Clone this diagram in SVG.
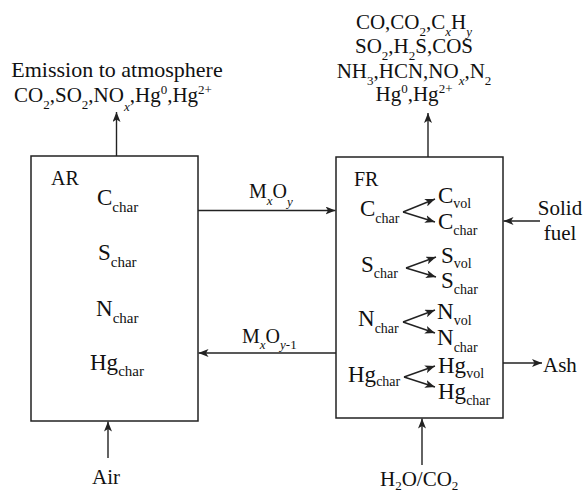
<svg xmlns="http://www.w3.org/2000/svg" width="583" height="490" viewBox="0 0 583 490">
<defs>
<style>
text{font-family:"Liberation Serif","Times New Roman",serif;fill:#111;font-size:21px}
.box{fill:#fff;stroke:#222;stroke-width:1.5}
.ln{stroke:#222;stroke-width:1.4;fill:none;marker-end:url(#ah)}
.s{font-size:13px}
.sf{font-size:14px}
.sa{font-size:15px}
.i{font-style:italic}
.big{font-size:22px}
.lab{font-size:20px}
.el{font-size:23px}
</style>
<marker id="ah" viewBox="0 0 10 8" refX="10" refY="4" markerWidth="10" markerHeight="8" markerUnits="userSpaceOnUse" orient="auto">
<path d="M0,0 L10,4 L0,8 L2.5,4 z" fill="#222"/>
</marker>
</defs>

<g id="AR">
<rect class="box" x="31" y="156" width="167" height="265"/>
<text class="lab" x="51" y="185">AR</text>
<text class="el" x="97" y="205">C<tspan class="sa" dy="7">char</tspan></text>
<text class="el" x="98" y="260">S<tspan class="sa" dy="7">char</tspan></text>
<text class="el" x="96" y="316">N<tspan class="sa" dy="7">char</tspan></text>
<text class="el" x="90" y="370">Hg<tspan class="sa" dy="6">char</tspan></text>
</g>

<g id="FR">
<rect class="box" x="336" y="157" width="167" height="261"/>
<text class="lab" x="354" y="186">FR</text>
<text class="el" x="360" y="216">C<tspan class="sf" dy="7">char</tspan></text>
<text class="el" x="361" y="272">S<tspan class="sf" dy="6">char</tspan></text>
<text class="el" x="358" y="326">N<tspan class="sf" dy="7">char</tspan></text>
<text class="el" x="348" y="382">Hg<tspan class="sf" dy="4">char</tspan></text>
<text class="el" x="438" y="203">C<tspan class="sf" dy="5">vol</tspan></text>
<text class="el" x="438" y="229">C<tspan class="sf" dy="6">char</tspan></text>
<text class="el" x="441" y="263">S<tspan class="sf" dy="5">vol</tspan></text>
<text class="el" x="441" y="288">S<tspan class="sf" dy="6">char</tspan></text>
<text class="el" x="437" y="319">N<tspan class="sf" dy="6">vol</tspan></text>
<text class="el" x="437" y="345">N<tspan class="sf" dy="7">char</tspan></text>
<text class="el" x="438" y="373">Hg<tspan class="sf" dy="5">vol</tspan></text>
<text class="el" x="438" y="399">Hg<tspan class="sf" dy="6">char</tspan></text>
</g>

<g id="emission">
<text class="big" x="117" y="77" text-anchor="middle">Emission to atmosphere</text>
<text x="113" y="102" text-anchor="middle">CO<tspan class="s" dy="7">2</tspan><tspan dy="-7">,SO</tspan><tspan class="s" dy="7">2</tspan><tspan dy="-7">,NO</tspan><tspan class="s i" dy="9">x</tspan><tspan dy="-9">,Hg</tspan><tspan class="s" dy="-8">0</tspan><tspan dy="8">,Hg</tspan><tspan class="s" dy="-8">2+</tspan></text>
</g>

<g id="gases">
<text x="414" y="29" text-anchor="middle">CO,CO<tspan class="s" dy="7">2</tspan><tspan dy="-7">,C</tspan><tspan class="s i" dy="7">x</tspan><tspan dy="-7">H</tspan><tspan class="s i" dy="7">y</tspan></text>
<text x="414" y="53" text-anchor="middle">SO<tspan class="s" dy="7">2</tspan><tspan dy="-7">,H</tspan><tspan class="s" dy="7">2</tspan><tspan dy="-7">S,COS</tspan></text>
<text x="414" y="78" text-anchor="middle">NH<tspan class="s" dy="7">3</tspan><tspan dy="-7">,HCN,NO</tspan><tspan class="s i" dy="7">x</tspan><tspan dy="-7">,N</tspan><tspan class="s" dy="7">2</tspan></text>
<text x="414" y="101" text-anchor="middle">Hg<tspan class="s" dy="-8">0</tspan><tspan dy="8">,Hg</tspan><tspan class="s" dy="-8">2+</tspan></text>
</g>

<g id="solid-fuel">
<text x="560" y="215" text-anchor="middle">Solid</text>
<text x="560" y="240" text-anchor="middle">fuel</text>
</g>
<g id="ash"><text x="543" y="372">Ash</text></g>
<g id="air"><text x="106" y="484" text-anchor="middle">Air</text></g>
<g id="h2o-co2"><text x="380" y="486">H<tspan class="s" dy="4">2</tspan><tspan dy="-4">O/CO</tspan><tspan class="s" dy="4">2</tspan></text></g>

<g id="label-mxoy">
<text class="lab" x="249" y="198">M<tspan class="s i" dy="7">x</tspan><tspan dy="-7">O</tspan><tspan class="s i" dy="8">y</tspan></text>
</g>
<g id="label-mxoy1">
<text class="lab" x="242" y="343">M<tspan class="s i" dy="6">x</tspan><tspan dy="-6">O</tspan><tspan class="s" dy="6"><tspan class="i">y</tspan>-1</tspan></text>
</g>

<g id="connectors">
<line class="ln" x1="116.5" y1="156" x2="116.5" y2="112"/>
<line class="ln" x1="428" y1="157" x2="428" y2="113"/>
<line class="ln" x1="108" y1="458" x2="108" y2="421.5"/>
<line class="ln" x1="422" y1="465" x2="422" y2="418.5"/>
<line class="ln" x1="198" y1="210.5" x2="335.5" y2="210.5"/>
<line class="ln" x1="336" y1="353" x2="198.5" y2="353"/>
<line class="ln" x1="540" y1="221" x2="503.5" y2="221"/>
<line class="ln" x1="503" y1="363" x2="542" y2="363"/>
<line class="ln" x1="403" y1="212" x2="435" y2="199"/>
<line class="ln" x1="403" y1="212" x2="435" y2="222"/>
<line class="ln" x1="406" y1="268" x2="436" y2="257"/>
<line class="ln" x1="406" y1="268" x2="436" y2="277"/>
<line class="ln" x1="403" y1="322" x2="435" y2="310"/>
<line class="ln" x1="403" y1="322" x2="435" y2="333"/>
<line class="ln" x1="404" y1="377" x2="435" y2="366"/>
<line class="ln" x1="404" y1="377" x2="435" y2="387"/>
</g>
</svg>
